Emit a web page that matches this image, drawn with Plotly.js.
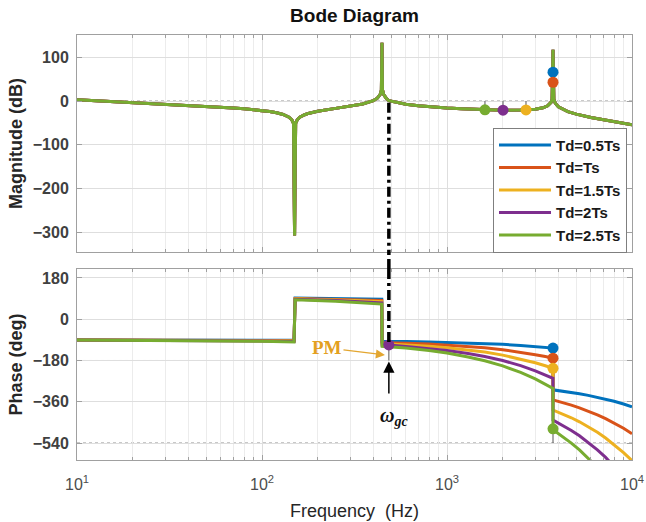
<!DOCTYPE html>
<html><head><meta charset="utf-8">
<script src="https://cdn.plot.ly/plotly-3.0.1.min.js"></script>
<style>html,body{margin:0;padding:0;background:#fff;}#chart{width:646px;height:522px;}</style>
</head><body><div id="chart"></div>
<script>
// ---------- data ----------
const seriesNames = ['Td=0.5Ts', 'Td=Ts', 'Td=1.5Ts', 'Td=2Ts', 'Td=2.5Ts'];
const seriesColors = ['#0072BD', '#D95319', '#EDB120', '#7E2F8E', '#77AC30'];

// magnitude (identical for all delays)
const freqMag = [10, 15, 20, 30, 40, 50, 60, 70, 80, 90, 100, 110, 120, 130, 140, 145, 148, 150, 152, 155, 160, 170, 180, 200, 250, 300, 350, 400, 420, 435, 442, 445, 448, 455, 470, 485, 550, 600, 700, 800, 1000, 1200, 1500, 1600, 2000, 2500, 2673, 3000, 3300, 3500, 3650, 3700, 3741, 3780, 3850, 4000, 4500, 5000, 6000, 7000, 8000, 10000];
const magDB = [3.0, -0.6, -3.2, -6.9, -9.6, -11.9, -13.9, -15.8, -17.7, -19.6, -21.7, -24.0, -26.8, -30.6, -36.8, -43.0, -51.0, -307, -51.0, -43.1, -37.1, -31.2, -27.7, -23.2, -16.7, -11.7, -6.6, 1.0, 6.5, 14.7, 25.2, 133, 25.3, 14.9, 6.0, 1.0, -4.5, -7.1, -10.6, -12.9, -15.8, -17.6, -19.4, -19.8, -20.8, -20.7, -20.2, -18.5, -15.3, -10.8, -2.9, 3.9, 117, 4.0, -5.1, -13.2, -24.1, -29.9, -37.5, -42.9, -47.2, -53.9];

// phase
const freqPhase = [10, 50, 100, 149, 151, 250, 350, 444, 446, 485, 600, 800, 1000, 1300, 1600, 2000, 2500, 3000, 3400, 3740, 3742, 4200, 4700, 5200, 5800, 6500, 7200, 8000, 9000, 10000];
const phaseTd05 = [-90.1, -90.6, -91.2, -91.8, 92.2, 90.6, 88.9, 86.8, -97.2, -96.7, -97.6, -98.9, -100.8, -103.3, -105.8, -109.5, -114.4, -119.3, -123.0, -126.0, -308.0, -313.4, -319.3, -325.2, -332.2, -340.4, -348.7, -358.1, -369.8, -381.6];
const phaseTd10 = [-90.2, -91.2, -92.4, -93.5, 90.4, 87.6, 84.8, 81.6, -102.5, -102.4, -104.6, -108.3, -112.5, -118.6, -124.6, -133.0, -143.8, -154.6, -163.0, -170.0, -352.0, -362.8, -374.5, -386.3, -400.4, -416.9, -433.3, -452.2, -475.7, -499.2];
const phaseTd15 = [-90.4, -91.8, -93.5, -95.3, 88.7, 84.7, 80.7, 76.3, -107.7, -108.1, -111.7, -117.7, -124.3, -133.9, -143.4, -156.6, -173.2, -189.8, -203.0, -214.0, -396.0, -412.2, -429.8, -447.5, -468.6, -493.3, -518.0, -546.2, -581.5, -616.8];
const phaseTd20 = [-90.5, -92.4, -94.7, -97.0, 86.9, 81.7, 76.5, 71.1, -113.0, -112.5, -118.7, -127.1, -136.0, -149.2, -162.3, -180.1, -202.6, -225.1, -242.9, -257.9, -440.0, -461.6, -485.1, -508.6, -536.8, -569.8, -602.7, -640.3, -687.4, -734.4];
const phaseTd25 = [-90.6, -92.9, -95.9, -98.8, 85.1, 78.8, 72.4, 65.9, -118.2, -119.5, -125.8, -136.5, -147.8, -164.4, -181.1, -203.6, -232.0, -260.4, -282.9, -301.9, -482.0, -511.0, -540.4, -569.8, -605.0, -646.2, -687.4, -734.4, -793.0, -852.0];
const phaseSeries = [phaseTd05, phaseTd10, phaseTd15, phaseTd20, phaseTd25];

// margin markers (one per series)
const magMarkFreq = [3741, 3741, 2673, 2008, 1604];
const magMarkDB = [66, 43, -20.2, -20.8, -20.0];
const phaseMarkFreq = [3741, 3741, 3741, 485, 3741];
const phaseMarkDeg = [-126, -170, -214, -112, -478];

// gain-crossover frequency
const wgc = 485;

// tick labels
const xTickVals = [10, 100, 1000, 10000];
const xTickText = ['10<sup>1</sup>', '10<sup>2</sup>', '10<sup>3</sup>', '10<sup>4</sup>'];
const xMinorVals = [20, 30, 40, 50, 60, 70, 80, 90, 200, 300, 400, 500, 600, 700, 800, 900, 2000, 3000, 4000, 5000, 6000, 7000, 8000, 9000];
const magTickVals = [-300, -200, -100, 0, 100];
const phaseTickVals = [-540, -360, -180, 0, 180];
const magRange = [-345, 151];
const phaseRange = [-614, 219];

// ---------- traces ----------
const traces = [];
for (let i = 0; i < 5; i++) {
  traces.push({x: freqMag, y: magDB, xaxis: 'x', yaxis: 'y', mode: 'lines', name: seriesNames[i],
    legendgroup: seriesNames[i], line: {color: seriesColors[i], width: 3}, showlegend: true});
}
for (let i = 0; i < 5; i++) {
  traces.push({x: freqPhase, y: phaseSeries[i], xaxis: 'x2', yaxis: 'y2', mode: 'lines', name: seriesNames[i],
    legendgroup: seriesNames[i], line: {color: seriesColors[i], width: 3}, showlegend: false});
}
// thin margin indicator lines
const thin = {color: '#555', width: 1};
for (let i = 2; i < 5; i++) {
  traces.push({x: [magMarkFreq[i], magMarkFreq[i]], y: [magMarkDB[i], 0], xaxis: 'x', yaxis: 'y', mode: 'lines', line: thin, showlegend: false});
}
traces.push({x: [phaseMarkFreq[3], phaseMarkFreq[3]], y: [phaseMarkDeg[3], -180], xaxis: 'x2', yaxis: 'y2', mode: 'lines', line: thin, showlegend: false});
traces.push({x: [phaseMarkFreq[4], phaseMarkFreq[4]], y: [phaseMarkDeg[4], -540], xaxis: 'x2', yaxis: 'y2', mode: 'lines', line: thin, showlegend: false});
for (let i = 0; i < 5; i++) {
  traces.push({x: [magMarkFreq[i]], y: [magMarkDB[i]], xaxis: 'x', yaxis: 'y', mode: 'markers',
    marker: {color: seriesColors[i], size: 11}, showlegend: false});
  traces.push({x: [phaseMarkFreq[i]], y: [phaseMarkDeg[i]], xaxis: 'x2', yaxis: 'y2', mode: 'markers',
    marker: {color: seriesColors[i], size: 11}, showlegend: false});
}

// ---------- layout ----------
const FONT = 'Liberation Sans, Arial, sans-serif';
const SERIF = 'Liberation Serif, Times New Roman, serif';
const topDom = [0.4894, 1];
const botDom = [0, 0.4494];
const frame = '#a0a0a0';
const xCommon = {
  type: 'log', range: [1, 4], tickmode: 'array', tickvals: xTickVals, ticktext: xTickText,
  showline: true, linecolor: frame, linewidth: 1, mirror: 'ticks', ticks: 'inside', ticklen: 5, tickcolor: frame,
  showgrid: true, gridcolor: '#dedede', gridwidth: 1, zeroline: false,
  minor: {tickmode: 'array', tickvals: xMinorVals, ticks: 'inside', ticklen: 3, tickcolor: frame, showgrid: true, gridcolor: '#ececec', gridwidth: 1}
};
const yCommon = {
  showline: true, linecolor: frame, linewidth: 1, mirror: 'ticks', ticks: 'inside', ticklen: 5, tickcolor: frame,
  showgrid: true, gridcolor: '#dedede', zeroline: false, tickmode: 'array',
  tickfont: {family: FONT, size: 16, color: '#404040', weight: 'bold'}, ticklabelstandoff: 4
};
const dotLine = {color: '#8a8a8a', width: 1, dash: 'dot'};
const dashDot = {color: '#000', width: 3.5, dash: '10px,4px,3px,4px'};

const layout = {
  width: 646, height: 522,
  margin: {l: 77, r: 14, t: 35, b: 62},
  paper_bgcolor: '#ffffff', plot_bgcolor: '#ffffff',
  title: {text: 'Bode Diagram', x: 0.5, xref: 'paper', y: 1 - 15 / 522, yref: 'container', yanchor: 'middle',
    font: {family: FONT, size: 19, color: '#111', weight: 'bold'}},
  showlegend: true,
  legend: {x: 0.991, xanchor: 'right', y: 0.782, yanchor: 'top', bgcolor: '#ffffff', bordercolor: '#7f7f7f', borderwidth: 1,
    font: {family: FONT, size: 15, color: '#1a1a1a', weight: 'bold'}, itemwidth: 52, tracegroupgap: 0},
  xaxis: Object.assign({}, xCommon, {domain: [0, 1], anchor: 'y', showticklabels: false}),
  xaxis2: Object.assign({}, xCommon, {domain: [0, 1], anchor: 'y2', showticklabels: true,
    tickfont: {family: FONT, size: 16, color: '#4d4d4d'}, ticklabelstandoff: 10,
    title: {text: 'Frequency\u00A0 (Hz)', font: {family: FONT, size: 18, color: '#262626'}, standoff: 12}}),
  yaxis: Object.assign({}, yCommon, {domain: topDom, anchor: 'x', range: magRange, tickvals: magTickVals,
    title: {text: 'Magnitude (dB)', font: {family: FONT, size: 18, color: '#262626', weight: 'bold'}, standoff: 5}}),
  yaxis2: Object.assign({}, yCommon, {domain: botDom, anchor: 'x2', range: phaseRange, tickvals: phaseTickVals,
    title: {text: 'Phase (deg)', font: {family: FONT, size: 18, color: '#262626', weight: 'bold'}, standoff: 5}}),
  shapes: [
    {type: 'line', xref: 'x', x0: xTickVals[0], x1: xTickVals[3], yref: 'y', y0: 0, y1: 0, layer: 'below', line: dotLine},
    {type: 'line', xref: 'x2', x0: xTickVals[0], x1: xTickVals[3], yref: 'y2', y0: -180, y1: -180, layer: 'below', line: dotLine},
    {type: 'line', xref: 'x2', x0: xTickVals[0], x1: xTickVals[3], yref: 'y2', y0: -540, y1: -540, layer: 'below', line: dotLine},
    // dash-dot crossover line across both panels
    {type: 'line', xref: 'x', x0: wgc, x1: wgc, yref: 'y', y0: -4, y1: magRange[0], layer: 'above', line: dashDot},
    {type: 'line', xref: 'x', x0: wgc, x1: wgc, yref: 'paper', y0: botDom[1], y1: topDom[0], layer: 'above', line: dashDot},
    {type: 'line', xref: 'x2', x0: wgc, x1: wgc, yref: 'y2', y0: phaseRange[1], y1: phaseMarkDeg[3] + 6, layer: 'above', line: dashDot}
  ],
  annotations: [
    {xref: 'x2', yref: 'y2', x: Math.log10(462), y: -156, text: '<b>PM</b>', showarrow: true,
      ax: -58, ay: -7, arrowhead: 2, arrowsize: 1.4, arrowwidth: 1.3, arrowcolor: '#E3A630',
      font: {family: SERIF, size: 19, color: '#E3A020'}},
    {xref: 'x2', yref: 'y2', x: Math.log10(wgc), y: -184, text: ' ', showarrow: true,
      ax: 0, ay: 36, arrowhead: 2, arrowsize: 1.5, arrowwidth: 1.5, arrowcolor: '#000', font: {size: 4}},
    {xref: 'x2', yref: 'y2', x: Math.log10(wgc), y: -425, xshift: 5, text: '<b><i>ω<sub>gc</sub></i></b>', showarrow: false,
      font: {family: SERIF, size: 20, color: '#111'}}
  ]
};

Plotly.newPlot('chart', traces, layout, {staticPlot: true, displayModeBar: false});
</script></body></html>
